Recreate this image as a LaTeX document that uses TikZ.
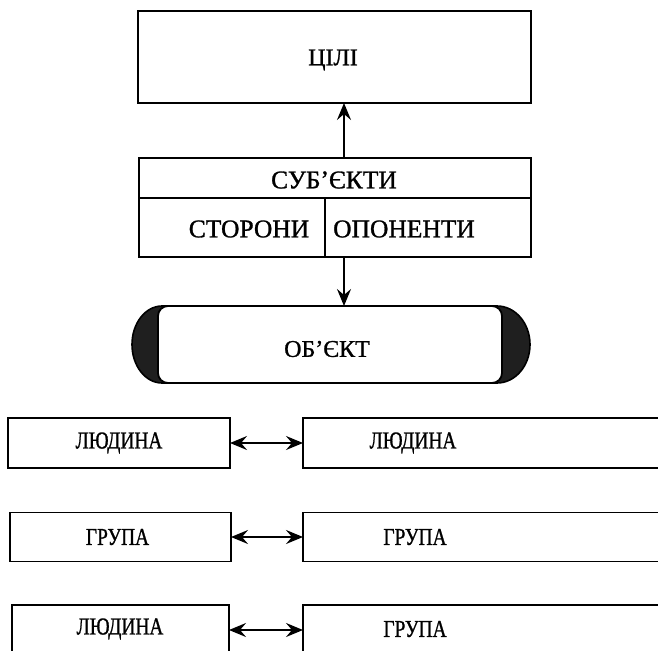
\documentclass[tikz,border=0pt]{standalone}
\usepackage{fontspec}
\setmainfont{Liberation Serif}
\newfontfamily\scanfont{Liberation Serif}[FakeBold=1.1]
\usetikzlibrary{arrows.meta,calc}
\tikzset{
  boxnode/.style={draw=black, line width=1.8pt, rectangle, inner sep=0pt, outer sep=0pt, fill=white},
  toptext/.style={font=\scanfont\fontsize{24}{24}\selectfont, inner sep=0pt},
  midtext/.style={font=\scanfont\fontsize{25.5}{25}\selectfont, inner sep=0pt},
  bottext/.style={font=\scanfont\fontsize{22}{22}\selectfont, inner sep=0pt},
  arr/.style={line width=1.8pt, -{Stealth[length=17pt,width=14pt,inset=6pt]}},
  dblarr/.style={line width=1.8pt, {Stealth[length=17pt,width=14pt,inset=6pt]}-{Stealth[length=17pt,width=14pt,inset=6pt]}},
  capfill/.style={fill=black!88, draw=black, line width=1.6pt}
}
\begin{document}
\begin{tikzpicture}[x=1pt,y=-1pt]
\useasboundingbox (0,0) rectangle (658,650);
\clip (0,0) rectangle (658,650);

% ЦІЛІ
\node[boxnode, minimum width=393pt, minimum height=92pt] (cili) at (334.5,57) {};
\node[toptext] (cilit) at (333,60) {ЦІЛІ};

% СУБ'ЄКТИ
\node[boxnode, minimum width=392pt, minimum height=40pt] (subj) at (335,178) {};
\node[midtext] (subjt) at (334,180) {СУБ’ЄКТИ};
\node[boxnode, minimum width=186pt, minimum height=59pt] (stor) at (232,227.5) {};
\node[boxnode, minimum width=206pt, minimum height=59pt] (opon) at (428,227.5) {};
\node[midtext] (stort) at (249,229) {СТОРОНИ};
\node[midtext] (opont) at (404,229) {ОПОНЕНТИ};

\coordinate (ax) at (344,0);
\draw[arr] (subj.north -| ax) -- (cili.south -| ax);

% ОБ'ЄКТ
\draw[capfill] (162,306) -- (497,306) arc[start angle=-90, end angle=90, x radius=33, y radius=38.5]
  -- (162,383) arc[start angle=90, end angle=270, x radius=30, y radius=38.5] -- cycle;
\node[boxnode, rounded corners=10pt, minimum width=344pt, minimum height=77pt] (obj) at (330,344.5) {};
\node[toptext] (objt) at (327,349) {ОБ’ЄКТ};
\draw[arr] (opon.south -| ax) -- (obj.north -| ax);

% bottom rows
\node[boxnode, minimum width=222pt, minimum height=50pt] (l1) at (119,443) {};
\node[boxnode, minimum width=397pt, minimum height=50pt] (r1) at (501.5,443) {};
\node[bottext] (l1t) at (119,443) {\scalebox{0.88}[1.1]{ЛЮДИНА}};
\node[bottext] (r1t) at (413,443) {\scalebox{0.88}[1.1]{ЛЮДИНА}};
\draw[dblarr] (l1.east) -- (r1.west);

\node[boxnode, minimum width=221pt, minimum height=49pt] (l2) at (120.5,537) {};
\node[boxnode, minimum width=397pt, minimum height=49pt] (r2) at (501.5,537) {};
\node[bottext] (l2t) at (117.5,537) {\scalebox{0.88}[1.1]{ГРУПА}};
\node[bottext] (r2t) at (415,537) {\scalebox{0.88}[1.1]{ГРУПА}};
\draw[dblarr] (l2.east) -- (r2.west);

\node[boxnode, minimum width=217pt, minimum height=50pt] (l3) at (120.5,630) {};
\node[boxnode, minimum width=397pt, minimum height=50pt] (r3) at (501.5,630) {};
\node[bottext] (l3t) at (120,629) {\scalebox{0.88}[1.1]{ЛЮДИНА}};
\node[bottext] (r3t) at (415,629) {\scalebox{0.88}[1.1]{ГРУПА}};
\draw[dblarr] (l3.east) -- (r3.west);
\end{tikzpicture}
\end{document}
